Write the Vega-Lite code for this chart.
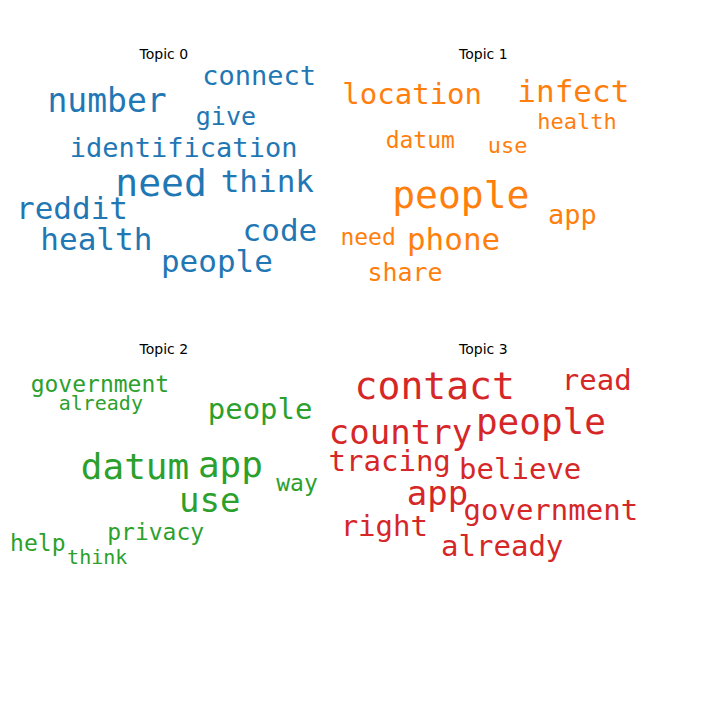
{
  "$schema": "https://vega.github.io/schema/vega-lite/v6.json",
  "width": 720,
  "height": 720,
  "autosize": {"type": "none"},
  "padding": 0,
  "config": {"view": {"stroke": null}},
  "datasets": {
    "words": [
      {"topic": "Topic 0", "word": "number", "x": 119, "y": 113, "weight": 33},
      {"topic": "Topic 0", "word": "connect", "x": 288, "y": 85, "weight": 27},
      {"topic": "Topic 0", "word": "give", "x": 251, "y": 130, "weight": 25},
      {"topic": "Topic 0", "word": "identification", "x": 204, "y": 165, "weight": 27},
      {"topic": "Topic 0", "word": "need", "x": 179, "y": 205, "weight": 38},
      {"topic": "Topic 0", "word": "think", "x": 297, "y": 203, "weight": 31},
      {"topic": "Topic 0", "word": "reddit", "x": 80, "y": 233, "weight": 31},
      {"topic": "Topic 0", "word": "health", "x": 107, "y": 268, "weight": 31},
      {"topic": "Topic 0", "word": "code", "x": 311, "y": 258, "weight": 31},
      {"topic": "Topic 0", "word": "people", "x": 241, "y": 292, "weight": 31},
      {"topic": "Topic 1", "word": "location", "x": 458, "y": 105, "weight": 29},
      {"topic": "Topic 1", "word": "infect", "x": 637, "y": 103, "weight": 31},
      {"topic": "Topic 1", "word": "health", "x": 641, "y": 135, "weight": 22},
      {"topic": "Topic 1", "word": "datum", "x": 467, "y": 157, "weight": 23},
      {"topic": "Topic 1", "word": "use", "x": 564, "y": 162, "weight": 22},
      {"topic": "Topic 1", "word": "people", "x": 512, "y": 219, "weight": 38},
      {"topic": "Topic 1", "word": "app", "x": 636, "y": 240, "weight": 27},
      {"topic": "Topic 1", "word": "need", "x": 409, "y": 264, "weight": 23},
      {"topic": "Topic 1", "word": "phone", "x": 504, "y": 268, "weight": 31},
      {"topic": "Topic 1", "word": "share", "x": 450, "y": 303, "weight": 25},
      {"topic": "Topic 2", "word": "government", "x": 111, "y": 428, "weight": 23},
      {"topic": "Topic 2", "word": "already", "x": 112, "y": 449, "weight": 20},
      {"topic": "Topic 2", "word": "people", "x": 289, "y": 456, "weight": 29},
      {"topic": "Topic 2", "word": "datum", "x": 150, "y": 520, "weight": 36},
      {"topic": "Topic 2", "word": "app", "x": 256, "y": 518, "weight": 36},
      {"topic": "Topic 2", "word": "use", "x": 233, "y": 558, "weight": 34},
      {"topic": "Topic 2", "word": "way", "x": 330, "y": 538, "weight": 23},
      {"topic": "Topic 2", "word": "privacy", "x": 173, "y": 592, "weight": 23},
      {"topic": "Topic 2", "word": "help", "x": 42, "y": 604, "weight": 23},
      {"topic": "Topic 2", "word": "think", "x": 108, "y": 620, "weight": 20},
      {"topic": "Topic 3", "word": "contact", "x": 483, "y": 431, "weight": 38},
      {"topic": "Topic 3", "word": "read", "x": 663, "y": 423, "weight": 29},
      {"topic": "Topic 3", "word": "people", "x": 601, "y": 470, "weight": 36},
      {"topic": "Topic 3", "word": "country", "x": 445, "y": 482, "weight": 34},
      {"topic": "Topic 3", "word": "tracing", "x": 433, "y": 513, "weight": 29},
      {"topic": "Topic 3", "word": "believe", "x": 578, "y": 522, "weight": 29},
      {"topic": "Topic 3", "word": "app", "x": 486, "y": 550, "weight": 34},
      {"topic": "Topic 3", "word": "government", "x": 612, "y": 568, "weight": 29},
      {"topic": "Topic 3", "word": "right", "x": 427, "y": 585, "weight": 29},
      {"topic": "Topic 3", "word": "already", "x": 558, "y": 608, "weight": 29}
    ],
    "titles": [
      {"topic": "Topic 0", "x": 182, "y": 61},
      {"topic": "Topic 1", "x": 537, "y": 61},
      {"topic": "Topic 2", "x": 182, "y": 389},
      {"topic": "Topic 3", "x": 537, "y": 389}
    ]
  },
  "layer": [
    {
      "data": {"name": "words"},
      "mark": {"type": "text", "font": "DejaVu Sans Mono", "baseline": "middle", "align": "center"},
      "encoding": {
        "x": {"field": "x", "type": "quantitative", "scale": {"domain": [0, 720]}, "axis": null},
        "y": {"field": "y", "type": "quantitative", "scale": {"domain": [0, 720], "reverse": true}, "axis": null},
        "text": {"field": "word"},
        "size": {"field": "weight", "type": "quantitative", "scale": null},
        "color": {
          "field": "topic",
          "type": "nominal",
          "scale": {"domain": ["Topic 0", "Topic 1", "Topic 2", "Topic 3"], "range": ["#1f77b4", "#ff7f0e", "#2ca02c", "#d62728"]},
          "legend": null
        }
      }
    },
    {
      "data": {"name": "titles"},
      "mark": {"type": "text", "font": "DejaVu Sans", "fontSize": 14, "color": "black", "baseline": "middle"},
      "encoding": {
        "x": {"field": "x", "type": "quantitative"},
        "y": {"field": "y", "type": "quantitative"},
        "text": {"field": "topic"}
      }
    }
  ]
}
